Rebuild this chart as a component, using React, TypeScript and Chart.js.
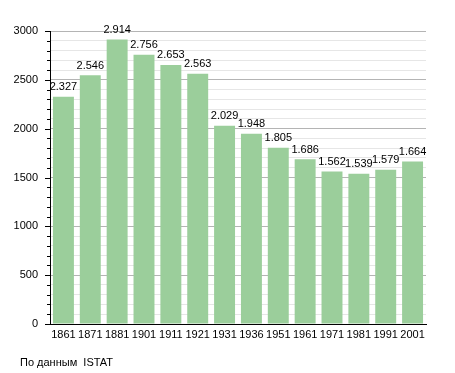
import React, { useEffect, useRef } from "react";
import { Chart, registerables } from "chart.js";

Chart.register(...registerables);

const categories = ["1861", "1871", "1881", "1901", "1911", "1921", "1931", "1936", "1951", "1961", "1971", "1981", "1991", "2001"];
const population = [2327, 2546, 2914, 2756, 2653, 2563, 2029, 1948, 1805, 1686, 1562, 1539, 1579, 1664];
const sourceNote = "По данным  ISTAT";

const FONT = "'Liberation Sans', Arial, sans-serif";

const fmt = (v: number) => {
  const s = String(v);
  return s.length > 3 ? s.slice(0, s.length - 3) + "." + s.slice(-3) : s;
};

const extrasPlugin = {
  id: "extras",
  afterDatasetsDraw(chart: any) {
    const ctx = chart.ctx;
    const meta = chart.getDatasetMeta(0);
    ctx.save();
    ctx.font = `11px ${FONT}`;
    ctx.fillStyle = "#000";
    ctx.textAlign = "center";
    ctx.textBaseline = "bottom";
    meta.data.forEach((bar: any, i: number) => {
      ctx.fillText(fmt(population[i]), bar.x, bar.y - 4);
    });
    const y = chart.scales.y;
    const x0 = chart.chartArea.left;
    ctx.strokeStyle = "#000";
    ctx.lineWidth = 1;
    y.ticks.forEach((t: any) => {
      const py = Math.round(y.getPixelForValue(t.value)) + 0.5;
      const len = t.value % 500 === 0 ? 5 : 3;
      ctx.beginPath();
      ctx.moveTo(x0 - len, py);
      ctx.lineTo(x0, py);
      ctx.stroke();
    });
    ctx.textAlign = "left";
    ctx.textBaseline = "alphabetic";
    ctx.fillText(sourceNote, 20, 366);
    ctx.restore();
  },
};

export default function App() {
  const ref = useRef<HTMLCanvasElement>(null);
  useEffect(() => {
    if (!ref.current) return;
    const chart = new Chart(ref.current, {
      type: "bar",
      data: {
        labels: categories,
        datasets: [
          {
            data: population,
            backgroundColor: "rgb(155,206,155)",
            borderWidth: 0,
            barPercentage: 0.78,
            categoryPercentage: 1,
          },
        ],
      },
      options: {
        animation: false,
        responsive: false,
        maintainAspectRatio: false,
        layout: { padding: { left: 0, right: 29, top: 31, bottom: 0 } },
        plugins: { legend: { display: false }, tooltip: { enabled: false } },
        scales: {
          x: {
            grid: { display: false, drawTicks: false },
            border: { display: true, color: "#000", width: 1 },
            ticks: { color: "#000", font: { family: FONT, size: 11 }, padding: 4, maxRotation: 0, autoSkip: false },
            afterFit: (s: any) => {
              s.height = 49;
            },
          },
          y: {
            min: 0,
            max: 3000,
            grid: {
              drawTicks: false,
              color: (c: any) => (c.tick && c.tick.value % 500 === 0 ? "#b4b4b4" : "#e6e6e6"),
              lineWidth: 1,
            },
            border: { display: true, color: "#000", width: 1 },
            ticks: {
              stepSize: 100,
              autoSkip: false,
              color: "#000",
              font: { family: FONT, size: 11 },
              padding: 12,
              callback: (v: any) => (Number(v) % 500 === 0 ? String(v) : ""),
            },
            afterFit: (s: any) => {
              s.width = 50;
            },
          },
        },
      },
      plugins: [extrasPlugin],
    });
    return () => chart.destroy();
  }, []);
  return (
    <div style={{ position: "fixed", left: 0, top: 0, width: 455, height: 373, background: "#fff" }}>
      <canvas ref={ref} width={455} height={373} />
    </div>
  );
}
